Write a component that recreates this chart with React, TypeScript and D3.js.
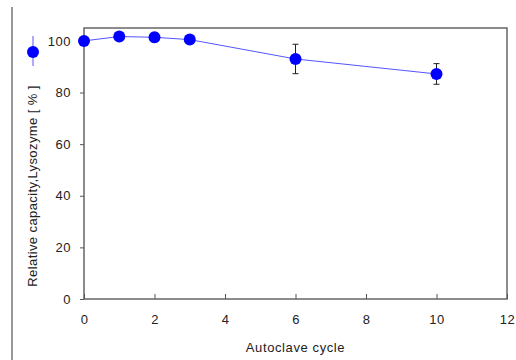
import React, { useEffect, useRef } from 'react';
import * as d3 from 'd3';

// Autoclave cycles and relative capacity (%) with error bars
const cycles = [0, 1, 2, 3, 6, 10];
const capacity = [100, 101.7, 101.4, 100.5, 93.0, 87.2];
const errors = [0, 0, 1.8, 0, 5.7, 4.0];
const xTicks = [0, 2, 4, 6, 8, 10, 12];
const yTicks = [0, 20, 40, 60, 80, 100];

const App = () => {
  const ref = useRef<SVGSVGElement>(null);

  useEffect(() => {
    const svg = d3.select(ref.current);
    svg.selectAll('*').remove();

    const width = 516;
    const height = 360;
    const margin = { top: 28, right: 9, bottom: 61, left: 84 };

    const x = d3.scaleLinear().domain([0, 12]).range([margin.left, width - margin.right]);
    const y = d3.scaleLinear().domain([0, 105]).range([height - margin.bottom, margin.top]);

    svg.append('rect').attr('width', width).attr('height', height).attr('fill', '#fff');

    // left rule
    svg.append('line')
      .attr('x1', 12).attr('x2', 12)
      .attr('y1', 7).attr('y2', height)
      .attr('stroke', '#777').attr('stroke-width', 1.5);

    // plot frame
    svg.append('rect')
      .attr('x', x(0)).attr('y', y(105))
      .attr('width', x(12) - x(0)).attr('height', y(0) - y(105))
      .attr('fill', 'none').attr('stroke', '#666').attr('stroke-width', 1.5);

    const font = 'Liberation Sans, Arial, sans-serif';

    // y axis
    const yAxis = svg.append('g')
      .attr('transform', `translate(${x(0)},0)`)
      .call(d3.axisLeft(y).tickValues(yTicks).tickSize(4).tickPadding(9));
    yAxis.select('.domain').remove();
    yAxis.selectAll('line').attr('stroke', '#555');
    yAxis.selectAll('text').style('font-family', font).style('font-size', '13px')
      .style('letter-spacing', '0.5px').attr('fill', '#222');

    // x axis, ticks pointing inward
    const xAxis = svg.append('g')
      .attr('transform', `translate(0,${y(0)})`)
      .call(d3.axisBottom(x).tickValues(xTicks).tickSize(-5).tickPadding(16));
    xAxis.select('.domain').remove();
    xAxis.selectAll('line').attr('stroke', '#555');
    xAxis.selectAll('text').style('font-family', font).style('font-size', '13px')
      .style('letter-spacing', '0.5px').attr('fill', '#222');

    svg.append('text')
      .attr('x', x(6)).attr('y', 352)
      .attr('text-anchor', 'middle')
      .style('font-family', font).style('font-size', '13px').style('letter-spacing', '0.6px')
      .attr('fill', '#222')
      .text('Autoclave cycle');

    // y label with legend symbol
    svg.append('text')
      .attr('transform', `translate(37,186) rotate(-90)`)
      .attr('text-anchor', 'middle')
      .style('font-family', font).style('font-size', '13px').style('letter-spacing', '0.4px')
      .attr('fill', '#222')
      .text('Relative capacity,Lysozyme  [ % ]');

    svg.append('line')
      .attr('x1', 33).attr('x2', 33).attr('y1', 36).attr('y2', 66)
      .attr('stroke', '#5555ff').attr('stroke-width', 1);
    svg.append('circle')
      .attr('cx', 33).attr('cy', 52).attr('r', 6).attr('fill', '#0000ff');

    const pts = cycles.map((c, i) => ({ c, v: capacity[i], e: errors[i] }));

    // line
    svg.append('path')
      .datum(pts)
      .attr('d', d3.line<any>().x(d => x(d.c)).y(d => y(d.v)))
      .attr('fill', 'none').attr('stroke', '#5555ff').attr('stroke-width', 1);

    // error bars
    const eb = svg.append('g').selectAll('g').data(pts.filter(d => d.e > 0)).enter().append('g')
      .attr('stroke', '#222').attr('stroke-width', 1);
    eb.append('line')
      .attr('x1', d => x(d.c)).attr('x2', d => x(d.c))
      .attr('y1', d => y(d.v + d.e)).attr('y2', d => y(d.v - d.e));
    eb.append('line')
      .attr('x1', d => x(d.c) - 3).attr('x2', d => x(d.c) + 3)
      .attr('y1', d => y(d.v + d.e)).attr('y2', d => y(d.v + d.e));
    eb.append('line')
      .attr('x1', d => x(d.c) - 3).attr('x2', d => x(d.c) + 3)
      .attr('y1', d => y(d.v - d.e)).attr('y2', d => y(d.v - d.e));

    // markers
    svg.append('g').selectAll('circle').data(pts).enter().append('circle')
      .attr('cx', d => x(d.c)).attr('cy', d => y(d.v))
      .attr('r', 6).attr('fill', '#0000ff');
  }, []);

  return (
    <svg ref={ref} width={516} height={360}
      style={{ position: 'absolute', left: 0, top: 0, display: 'block' }} />
  );
};

export default App;
